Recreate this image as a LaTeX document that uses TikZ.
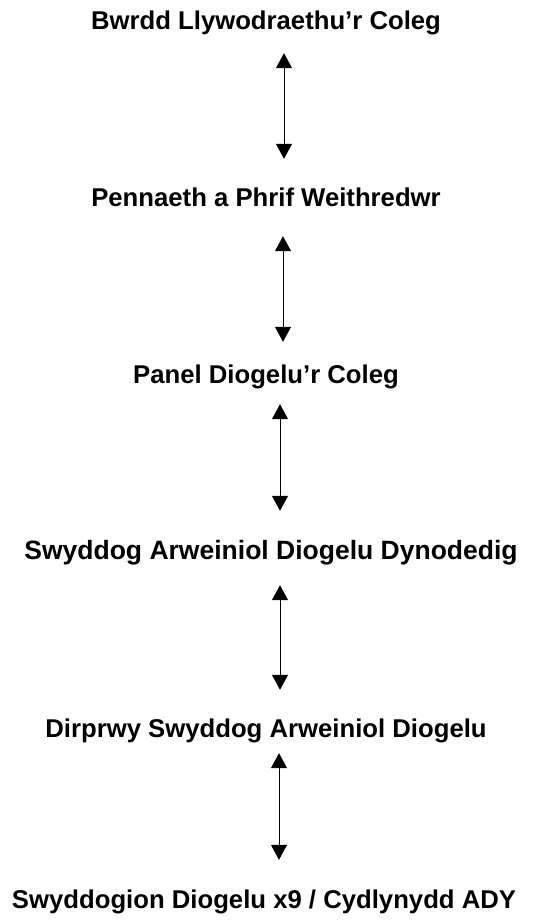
\documentclass[tikz,border=0pt]{standalone}
\usepackage{fontspec}
\setmainfont{Liberation Sans}
\usetikzlibrary{arrows.meta}

\begin{document}
\begin{tikzpicture}[x=1bp,y=-1bp]
\tikzset{
    roleNode/.style={
                   inner sep=0pt,
                   anchor=base,
                   text height=19bp,
                   text depth=6bp,
                   font=\fontsize{25.7bp}{30bp}\selectfont\bfseries
    },
    link/.style={
                   <->,
                   line width=1bp,
                   >={Triangle[length=15bp,width=16bp]}
    }
}
    \useasboundingbox (0,0) rectangle (537,922);

    \node (bwrdd)[roleNode] at (266,29) {Bwrdd Llywodraethu’r Coleg};
    \node (pennaeth)[roleNode] at (266,206) {Pennaeth a Phrif Weithredwr};
    \node (panel)[roleNode] at (266,383) {Panel Diogelu’r Coleg};
    \node (swyddog)[roleNode, font=\fontsize{26.5bp}{30bp}\selectfont\bfseries] at (271,559) {Swyddog Arweiniol Diogelu Dynodedig};
    \node (dirprwy)[roleNode] at (266,737) {Dirprwy Swyddog Arweiniol Diogelu};
    \node (swyddogion)[roleNode] at (264,908) {Swyddogion Diogelu x9 / Cydlynydd ADY};

    \draw[link, shorten <=18bp, shorten >=28bp] ([xshift=18bp]bwrdd.south) -- ([xshift=18bp]pennaeth.north);
    \draw[link, shorten <=24bp, shorten >=22bp] ([xshift=17bp]pennaeth.south) -- ([xshift=17bp]panel.north);
    \draw[link, shorten <=15bp, shorten >=29bp] ([xshift=14bp]panel.south) -- ([xshift=14bp]panel.south |- swyddog.north);
    \draw[link, shorten <=20bp, shorten >=28bp] ([xshift=9bp]swyddog.south) -- ([xshift=9bp]swyddog.south |- dirprwy.north);
    \draw[link, shorten <=10bp, shorten >=29bp] ([xshift=13bp]dirprwy.south) -- ([xshift=13bp]dirprwy.south |- swyddogion.north);

\end{tikzpicture}
\end{document}
